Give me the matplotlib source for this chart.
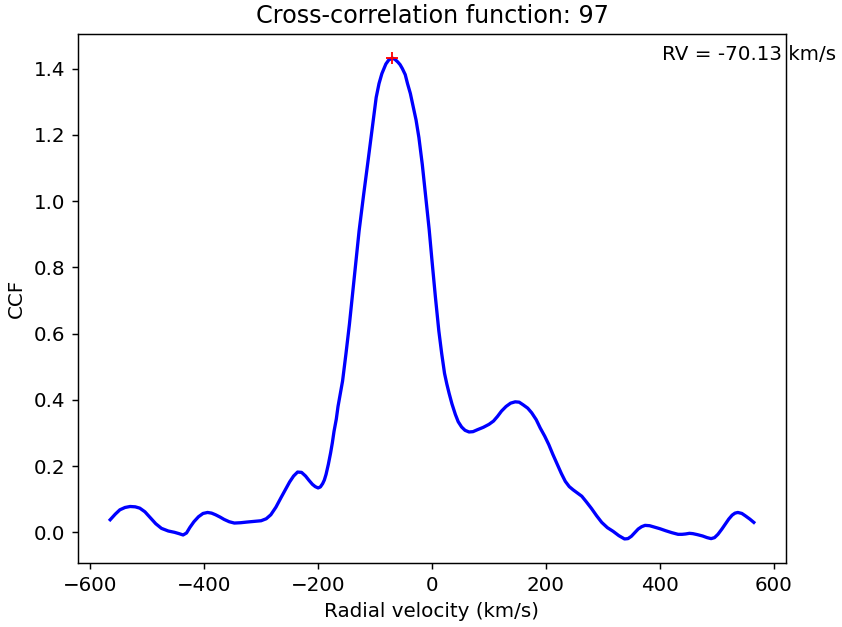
import matplotlib
matplotlib.use('Agg')
import matplotlib.pyplot as plt

# velocities (km/s) and CCF values
velocity = [-565, -556, -548, -539, -530, -521, -513, -504, -495, -485,
            -475, -463, -452, -444, -437, -431, -425, -418, -410, -402,
            -394, -387, -380, -372, -365, -356, -347, -336, -325, -312,
            -300, -291, -283, -274, -265, -257, -250, -243, -236, -229,
            -222, -216, -210, -205, -200, -196, -192, -189, -186, -182,
            -178, -175, -172, -168, -165, -161, -157, -151, -145, -137,
            -128, -120, -113, -105, -98, -93, -88, -84, -81, -76,
            -70, -65, -60, -56, -52, -47, -43, -38, -34, -28,
            -23, -17, -11, -5, 0, 6, 12, 17, 22, 26,
            30, 35, 41, 46, 52, 58, 65, 72, 80, 90,
            100, 108, 115, 122, 130, 138, 146, 153, 160, 168,
            175, 183, 190, 198, 205, 212, 220, 227, 234, 241,
            248, 255, 263, 271, 280, 289, 298, 308, 318, 328,
            338, 344, 350, 356, 362, 368, 374, 382, 390, 400,
            410, 421, 432, 439, 445, 452, 458, 466, 475, 483,
            490, 496, 502, 509, 515, 521, 527, 532, 537, 544,
            550, 558, 565]
ccf = [0.038, 0.055, 0.068, 0.075, 0.078, 0.077, 0.073, 0.062, 0.045, 0.026,
       0.012, 0.004, 0.000, -0.004, -0.008, -0.002, 0.015, 0.032, 0.047, 0.057,
       0.060, 0.058, 0.053, 0.046, 0.039, 0.032, 0.028, 0.029, 0.031, 0.033,
       0.035, 0.041, 0.053, 0.076, 0.105, 0.130, 0.152, 0.170, 0.182, 0.181,
       0.170, 0.157, 0.145, 0.138, 0.134, 0.137, 0.147, 0.158, 0.175, 0.205,
       0.240, 0.270, 0.305, 0.342, 0.380, 0.418, 0.457, 0.540, 0.628, 0.760,
       0.910, 1.020, 1.112, 1.220, 1.313, 1.355, 1.385, 1.402, 1.414, 1.426,
       1.432, 1.428, 1.420, 1.412, 1.400, 1.382, 1.355, 1.325, 1.293, 1.245,
       1.192, 1.110, 1.011, 0.915, 0.820, 0.710, 0.608, 0.540, 0.480, 0.448,
       0.420, 0.388, 0.356, 0.334, 0.318, 0.308, 0.303, 0.304, 0.310, 0.317,
       0.326, 0.336, 0.350, 0.366, 0.380, 0.390, 0.394, 0.393, 0.385, 0.375,
       0.361, 0.340, 0.315, 0.290, 0.265, 0.236, 0.205, 0.178, 0.154, 0.138,
       0.128, 0.119, 0.109, 0.092, 0.072, 0.050, 0.030, 0.014, 0.003, -0.010,
       -0.020, -0.019, -0.012, -0.001, 0.010, 0.017, 0.021, 0.020, 0.016, 0.011,
       0.005, -0.001, -0.006, -0.006, -0.005, -0.003, -0.004, -0.007, -0.011, -0.016,
       -0.019, -0.016, -0.006, 0.010, 0.025, 0.040, 0.052, 0.058, 0.060, 0.057,
       0.050, 0.040, 0.030]

rv = -70.13
peak = 1.432
star_id = 97

plt.rcParams['font.size'] = 10.9

fig = plt.figure(figsize=(842 / 131.5, 627 / 131.5), dpi=131.5)
ax = fig.add_axes([78 / 842, 1 - 563 / 627, 708 / 842, 529 / 627])

ax.plot(velocity, ccf, color='blue', linewidth=1.8)
ax.plot(rv, peak, '+', color='red', markersize=7)
ax.text(0.825, 0.95, 'RV = %.2f km/s' % rv, transform=ax.transAxes)

ax.set_xlabel('Radial velocity (km/s)')
ax.set_ylabel('CCF')
ax.set_title('Cross-correlation function: %d' % star_id, fontsize=13.1)

fig.savefig('out.png', dpi=131.5)
